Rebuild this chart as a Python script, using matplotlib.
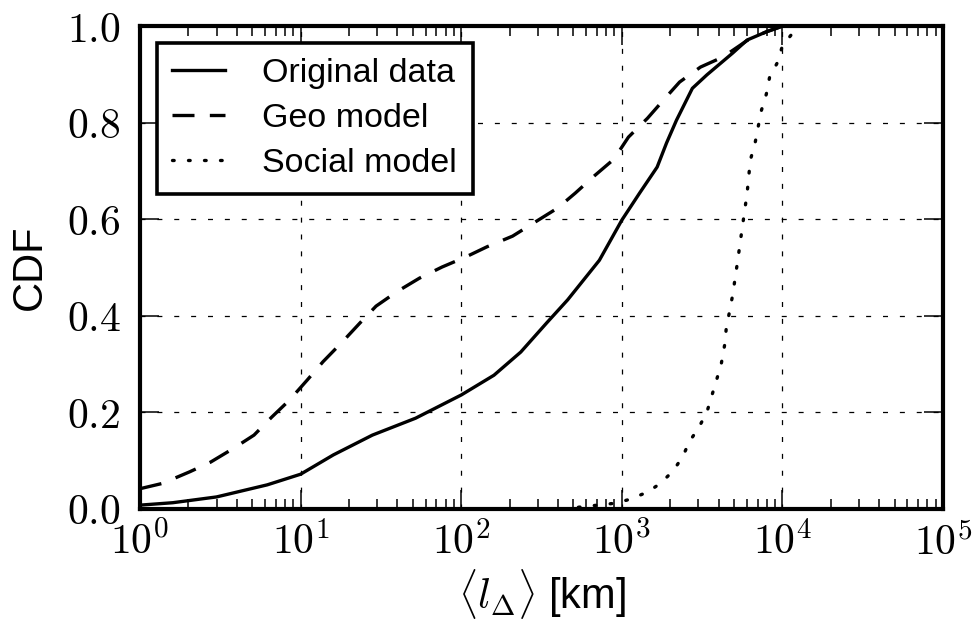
import numpy as np
import matplotlib
matplotlib.use('Agg')
import matplotlib.pyplot as plt
from matplotlib.ticker import FixedLocator, FuncFormatter, LogLocator, NullFormatter

# CDF curves (x in km)
orig_x = [1, 1.6, 3.0, 6.2, 10, 16, 28, 52, 100, 160, 235, 340, 460, 725, 1000,
          1290, 1660, 1900, 2190, 2750, 3390, 4900, 6030, 7940, 9330, 10000]
orig_y = [0.008, 0.013, 0.025, 0.05, 0.072, 0.112, 0.153, 0.188, 0.236, 0.277,
          0.325, 0.385, 0.433, 0.515, 0.598, 0.654, 0.708, 0.758, 0.805, 0.871,
          0.899, 0.944, 0.971, 0.988, 0.996, 1.0]

geo_x = [1, 1.38, 2.04, 2.75, 3.8, 5.13, 6.6, 8.5, 11, 13.8, 18.2, 23.4, 29.5,
         39.8, 55, 76, 107, 145, 209, 282, 398, 513, 676, 891, 1100, 1445, 1820,
         2290, 3090, 4270, 6030, 7940, 10000]
geo_y = [0.042, 0.053, 0.077, 0.097, 0.125, 0.153, 0.19, 0.225, 0.267, 0.305,
         0.346, 0.385, 0.42, 0.45, 0.478, 0.501, 0.522, 0.543, 0.565, 0.592,
         0.623, 0.654, 0.69, 0.724, 0.77, 0.809, 0.847, 0.884, 0.915, 0.936,
         0.97, 0.988, 1.0]

social_x = [427, 550, 708, 912, 1120, 1445, 1740, 2090, 2400, 2630, 3020, 3390,
            3630, 3890, 4170, 4370, 4470, 4680, 4900, 5250, 5620, 6030, 6310,
            6760, 7080, 7410, 7940, 8320, 9330, 10000, 11750, 12590]
social_y = [0.0, 0.004, 0.008, 0.012, 0.02, 0.035, 0.053, 0.079, 0.109, 0.139,
            0.169, 0.201, 0.234, 0.267, 0.302, 0.34, 0.374, 0.408, 0.443, 0.511,
            0.582, 0.654, 0.722, 0.758, 0.793, 0.826, 0.859, 0.894, 0.925, 0.959,
            0.988, 1.0]

labels = ['Original data', 'Geo model', 'Social model']
x_ticks = [1, 10, 100, 1000, 10000, 100000]
y_ticks = [0.0, 0.2, 0.4, 0.6, 0.8, 1.0]

plt.rcParams['font.family'] = ['Liberation Sans', 'DejaVu Sans']
plt.rcParams['mathtext.fontset'] = 'cm'

fig = plt.figure(figsize=(9.74, 6.24), dpi=100)
ax = fig.add_axes([0.1437, 0.1843, 0.8245, 0.7740])

lw = 2.4
ax.plot(orig_x, orig_y, color='black', lw=lw, label=labels[0])
ax.plot(geo_x, geo_y, color='black', lw=lw, linestyle=(0, (6.6, 4.6)), label=labels[1])
ax.plot(social_x, social_y, color='black', lw=lw, linestyle=(0, (0.5, 4.3)),
        dash_capstyle='round', label=labels[2])

ax.set_xscale('log')
ax.set_xlim(1, 1e5)
ax.set_ylim(0, 1)

ax.xaxis.set_major_locator(FixedLocator(x_ticks))
ax.xaxis.set_minor_locator(LogLocator(base=10, subs=np.arange(2, 10), numticks=20))
ax.xaxis.set_minor_formatter(NullFormatter())
ax.xaxis.set_major_formatter(FuncFormatter(lambda v, p: r'$10^{%d}$' % round(np.log10(v))))
ax.yaxis.set_major_locator(FixedLocator(y_ticks))
ax.yaxis.set_major_formatter(FuncFormatter(lambda v, p: r'$%.1f$' % v))

ax.tick_params(which='both', direction='in', top=True, right=True, labelsize=30,
               color='black', width=1.1)
ax.tick_params(which='major', length=14)
ax.tick_params(which='minor', length=7)
ax.tick_params(axis='x', which='major', pad=10)
ax.tick_params(axis='y', which='major', pad=14)

for s in ax.spines.values():
    s.set_linewidth(3.0)
    s.set_color('black')

ax.grid(True, which='major', color='black', lw=0.9, linestyle=(0, (4, 9.5)))

ax.set_xlabel(r'$\langle l_\Delta \rangle$ [km]', fontsize=30, labelpad=2)
ax.set_ylabel('CDF', fontsize=30, labelpad=12)

leg = ax.legend(loc='upper left', fontsize=24.5, fancybox=False, framealpha=1,
                edgecolor='black', handlelength=1.55, borderaxespad=0.5,
                labelspacing=0.4, handletextpad=1.1, borderpad=0.45)
leg.get_frame().set_linewidth(2.6)

fig.savefig('out.png', dpi=100)
